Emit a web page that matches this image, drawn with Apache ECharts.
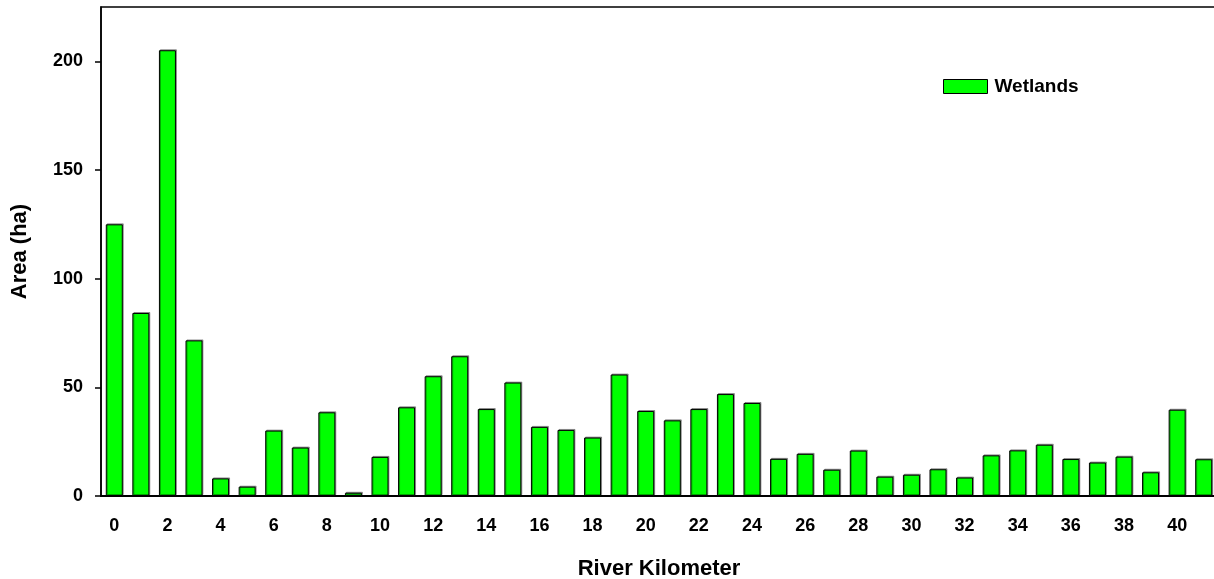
<!DOCTYPE html>
<html>
<head>
<meta charset="utf-8">
<style>
  html, body { margin: 0; padding: 0; background: #fff; }
  #chart { width: 1214px; height: 579px; }
</style>
<script src="https://cdn.jsdelivr.net/npm/echarts@6/dist/echarts.min.js"></script>
</head>
<body>
<div id="chart"></div>
<script>
const riverKm = ["0", "1", "2", "3", "4", "5", "6", "7", "8", "9",
  "10", "11", "12", "13", "14", "15", "16", "17", "18", "19",
  "20", "21", "22", "23", "24", "25", "26", "27", "28", "29",
  "30", "31", "32", "33", "34", "35", "36", "37", "38", "39",
  "40", "41"];

const wetlandArea = [125.0, 84.2, 205.1, 71.6, 8.1, 4.3, 30.1, 22.3, 38.5, 1.5,
  18.0, 40.8, 55.1, 64.3, 40.0, 52.2, 31.8, 30.4, 26.9, 55.9,
  39.1, 34.8, 40.0, 46.9, 42.8, 17.1, 19.4, 12.1, 20.9, 8.9,
  9.8, 12.3, 8.5, 18.7, 21.0, 23.6, 17.0, 15.4, 18.1, 10.9,
  39.7, 16.9];

const yTicks = [0, 50, 100, 150, 200];

const font = "'Liberation Sans', Arial, sans-serif";
const ink = "#000";

const chart = echarts.init(document.getElementById("chart"), null, { renderer: "canvas" });

chart.setOption({
  animation: false,
  backgroundColor: "#fff",
  grid: {
    left: 101,
    right: -3,
    top: 7,
    bottom: 83,
    containLabel: false,
    outerBoundsMode: "none",
    show: true,
    borderColor: ink,
    borderWidth: 1.5,
    backgroundColor: "transparent"
  },
  legend: {
    left: 938,
    top: 72,
    itemWidth: 44,
    itemHeight: 14,
    itemGap: 10,
    data: [{
      name: "Wetlands",
      icon: "rect",
      itemStyle: { color: "#00ff00", borderColor: ink, borderWidth: 1 }
    }],
    textStyle: { color: ink, fontFamily: font, fontWeight: "bold", fontSize: 19, padding: [0, 0, 0, 2] }
  },
  xAxis: [
    {
      type: "category",
      data: riverKm,
      boundaryGap: true,
      name: "River Kilometer",
      nameLocation: "middle",
      nameGap: 62,
      nameTextStyle: { color: ink, fontFamily: font, fontWeight: "bold", fontSize: 22 },
      axisLine: { lineStyle: { color: ink, width: 2 } },
      axisTick: {
        alignWithLabel: true,
        interval: (i) => i % 2 === 0,
        length: 7,
        lineStyle: { color: ink, width: 1.5 }
      },
      axisLabel: {
        interval: (i) => i % 2 === 0,
        margin: 21,
        color: ink,
        fontFamily: font,
        fontWeight: "bold",
        fontSize: 18
      },
      splitLine: { show: false }
    },
    {
      type: "category",
      data: riverKm,
      boundaryGap: true,
      position: "bottom",
      axisLine: { show: false },
      axisTick: {
        alignWithLabel: true,
        interval: (i) => i % 2 === 1,
        length: 4,
        lineStyle: { color: ink, width: 1.5 }
      },
      axisLabel: { show: false },
      splitLine: { show: false }
    }
  ],
  yAxis: {
    type: "value",
    min: 0,
    max: 225,
    name: "Area (ha)",
    nameLocation: "middle",
    nameGap: 70,
    nameTextStyle: { color: ink, fontFamily: font, fontWeight: "bold", fontSize: 22 },
    axisLine: { show: true, lineStyle: { color: ink, width: 1.5 } },
    axisTick: {
      show: true,
      length: 6,
      customValues: yTicks,
      lineStyle: { color: ink, width: 1.5 }
    },
    axisLabel: {
      customValues: yTicks,
      margin: 18,
      color: ink,
      fontFamily: font,
      fontWeight: "bold",
      fontSize: 18
    },
    splitLine: { show: false }
  },
  series: [
    {
      name: "Wetlands",
      type: "bar",
      xAxisIndex: 0,
      data: wetlandArea,
      barWidth: 17,
      itemStyle: {
        color: "#00ff00",
        borderColor: ink,
        borderWidth: 1,
        shadowColor: "rgba(0,0,0,0.35)",
        shadowBlur: 0,
        shadowOffsetX: 1,
        shadowOffsetY: -1
      }
    }
  ]
});
</script>
</body>
</html>
